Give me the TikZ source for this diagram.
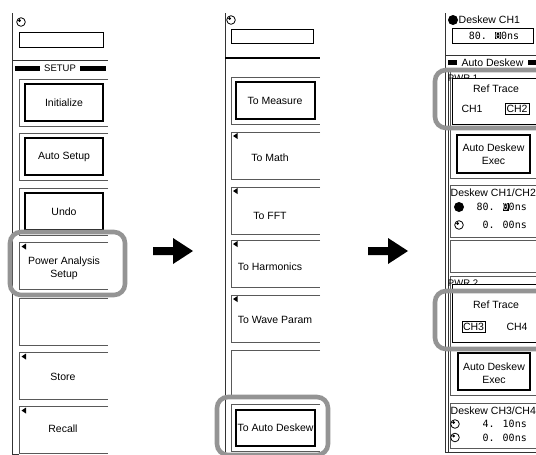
\documentclass[tikz,border=0pt]{standalone}
\usepackage{fontspec}
\setmainfont{Liberation Sans}
\newfontfamily\numfont{DejaVu Sans Mono}
\newcommand{\keysize}{\fontsize{10.5}{13}\selectfont}
\newcommand{\cursorchar}[1]{{\setlength{\fboxsep}{0pt}\colorbox{black}{\textcolor{white}{#1}}}}
\tikzset{
  panelline/.style={line width=0.9pt, black!80},
  keyframe/.style={line width=0.8pt, black!65},
  valbox/.style={draw, line width=0.8pt, fill=white},
  keybox/.style={draw, line width=1.3pt, fill=white},
  keylabel/.style={font=\keysize, align=center, inner sep=0pt},
  numlabel/.style={font=\numfont\fontsize{10}{12}\selectfont, inner sep=0pt},
  hdrlabel/.style={font=\fontsize{9.5}{11}\selectfont, inner sep=0pt},
  highlight/.style={draw=black!42, line width=4.6pt, rounded corners=11pt},
  keymark/.style={fill=black},
  knob/.pic={\draw[line width=0.8pt] (0,0) circle (4.3pt); \fill (-1.5,-1.5) circle (1.5pt);}
}
\begin{document}
\begin{tikzpicture}[x=1pt, y=-1pt]
\useasboundingbox (0,0) rectangle (536,455);

% Left menu: SETUP
\draw[panelline] (12,13) -- (12,454) -- (19,454);
\pic at (21,22) {knob};
\draw[valbox] (19,32) rectangle (103,47);
\draw[panelline] (12,60) -- (108,60);
\fill (15,66) rectangle (40,71);
\fill (80,66) rectangle (106,71);
\node[hdrlabel] (setuphdr) at (60,68.5) {SETUP};
\draw[keyframe] (108,79) -| (19,126) -- (108,126);
\draw[keybox] (25,84) rectangle (103,121);
\node[keylabel] (initialize) at (64,102.5) {Initialize};
\draw[keyframe] (108,133) -| (19,180) -- (108,180);
\draw[keybox] (25,138) rectangle (103,175);
\node[keylabel] (autosetup) at (64,156.5) {Auto Setup};
\draw[keyframe] (108,188) -| (19,235) -- (108,235);
\draw[keybox] (25,193) rectangle (103,230);
\node[keylabel] (undo) at (64,211.5) {Undo};
\draw[keyframe] (108,242) -| (19,289) -- (108,289);
\fill[keymark] (21.5,246.5) -- (26,243.5) -- (26,249.5) -- cycle;
\node[keylabel] (pwrsetup) at (64,268.5) {Power Analysis\\Setup};
\draw[keyframe] (108,298) -| (19,345) -- (108,345);
\draw[keyframe] (108,352) -| (19,399) -- (108,399);
\fill[keymark] (21.5,356.5) -- (26,353.5) -- (26,359.5) -- cycle;
\node[keylabel] (store) at (63,377) {Store};
\draw[keyframe] (108,406) -| (19,453) -- (108,453);
\fill[keymark] (21.5,410.5) -- (26,407.5) -- (26,413.5) -- cycle;
\node[keylabel] (recall) at (63,429) {Recall};
\draw[highlight] (10,232) rectangle (125,295);

% Arrow to the next menu
\fill (153,247) -- (173,247) -- (173,238) -- (193,251) -- (173,264) -- (173,255) -- (153,255) -- cycle;

% Middle menu
\draw[panelline] (225,13) -- (225,453);
\pic at (231,20) {knob};
\draw[valbox] (231,29) rectangle (313,43);
\draw[line width=1.2pt] (225,58) -- (320,58);
\draw[keyframe] (320,77) -| (231,124) -- (320,124);
\draw[keybox] (236,82) rectangle (315,119);
\node[keylabel] (tomeasure) at (275,100.5) {To Measure};
\draw[keyframe] (320,132) -| (231,179) -- (320,179);
\fill[keymark] (233,136) -- (237.5,133) -- (237.5,139) -- cycle;
\node[keylabel] (tomath) at (270,158) {To Math};
\draw[keyframe] (320,187) -| (231,234) -- (320,234);
\fill[keymark] (233,191) -- (237.5,188) -- (237.5,194) -- cycle;
\node[keylabel] (tofft) at (270,216) {To FFT};
\draw[keyframe] (320,240) -| (231,287) -- (320,287);
\fill[keymark] (233,244) -- (237.5,241) -- (237.5,247) -- cycle;
\node[keylabel] (toharm) at (270,267) {To Harmonics};
\draw[keyframe] (320,295) -| (231,342) -- (320,342);
\fill[keymark] (233,299) -- (237.5,296) -- (237.5,302) -- cycle;
\node[keylabel] (towave) at (275,320) {To Wave Param};
\draw[keyframe] (320,350) -| (231,397) -- (320,397);
\draw[keyframe] (320,404) -| (231,451) -- (320,451);
\draw[keybox] (236,410) rectangle (315,446);
\node[keylabel] (todeskew) at (275.5,428) {To Auto Deskew};
\draw[highlight] (217,397) rectangle (328,455);

% Arrow to the deskew menu
\fill (368,247) -- (388,247) -- (388,238) -- (408,251) -- (388,264) -- (388,255) -- (368,255) -- cycle;

% Right menu: Auto Deskew
\draw[panelline] (445,13) -- (445,452) -- (540,452);
\draw[panelline] (448,68) -- (448,452);
\fill (453,20) circle (5pt);
\node[keylabel, anchor=west] (deskewch1) at (458.5,20) {Deskew CH1};
\draw[valbox] (452,28) rectangle (533,43);
\node[numlabel] (deskewval) at (494,35.5) {80. \cursorchar{0}0ns};
\draw[panelline] (445,55) -- (540,55);
\fill (448,60) rectangle (457,65);
\fill (528,60) rectangle (540,65);
\node[hdrlabel, font=\keysize] (deskewhdr) at (492.5,62.5) {Auto Deskew};
% PWR 1
\draw[keyframe] (540,70) -| (450,178) -- (540,178);
\node[hdrlabel] (pwra) at (463,78) {PWR 1};
\draw[valbox] (452,78) rectangle (545,124);
\node[keylabel] (refa) at (496,89) {Ref Trace};
\node[keylabel] (cha) at (472,108.5) {CH1};
\draw[line width=0.7pt] (505,103) rectangle (529,114);
\node[keylabel] (chb) at (517,108.5) {CH2};
\draw[highlight] (435,70) rectangle (570,128);
\draw[keybox] (457,135) rectangle (530,173);
\node[keylabel] (execa) at (493.5,154.5) {Auto Deskew\\Exec};
\draw[keyframe] (540,185) -| (450,237) -- (540,237);
\node[keylabel, anchor=west] (deskewab) at (450.5,193) {Deskew CH1/CH2};
\fill (459,207) circle (5pt);
\node[numlabel, anchor=east] (valab) at (527,207) {80. \cursorchar{0}0ns};
\pic at (459,225) {knob};
\node[numlabel, anchor=east] (offab) at (527,225) {0. 00ns};
\draw[keyframe] (540,240) -| (450,272) -- (540,272);
% PWR 2
\draw[keyframe] (540,276) -| (450,395) -- (540,395);
\node[hdrlabel] (pwrb) at (463,283) {PWR 2};
\draw[valbox] (452,284) rectangle (545,342);
\node[keylabel] (refb) at (496,305) {Ref Trace};
\draw[line width=0.7pt] (462,321.5) rectangle (485,332.5);
\node[keylabel] (chc) at (473.5,327) {CH3};
\node[keylabel] (chd) at (517,327) {CH4};
\draw[highlight] (435,291) rectangle (570,349);
\draw[keybox] (458,353) rectangle (530,390);
\node[keylabel] (execb) at (494,373) {Auto Deskew\\Exec};
\draw[keyframe] (540,403) -| (450,448) -- (540,448);
\node[keylabel, anchor=west] (deskewcd) at (450.5,411) {Deskew CH3/CH4};
\pic at (455,424) {knob};
\node[numlabel, anchor=east] (valcd) at (527,424) {4. 10ns};
\pic at (455,437.5) {knob};
\node[numlabel, anchor=east] (offcd) at (527,437.5) {0. 00ns};
\end{tikzpicture}
\end{document}
